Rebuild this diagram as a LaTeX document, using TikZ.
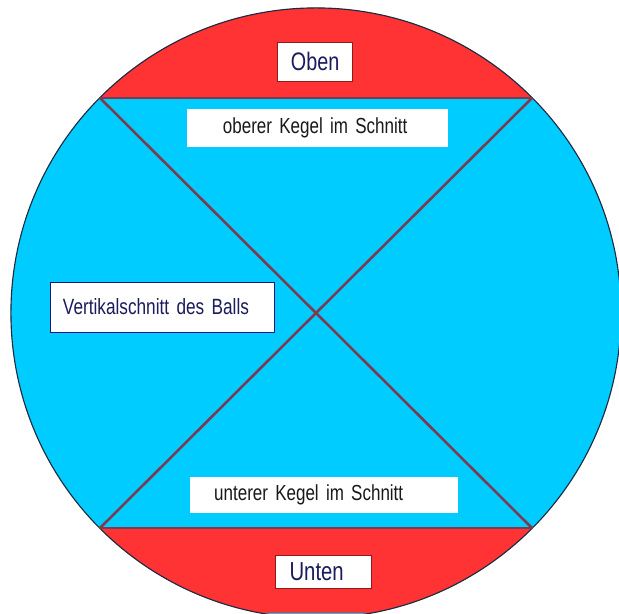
\documentclass[tikz,border=0pt]{standalone}
\usepackage{fontspec}
\setmainfont{Liberation Sans}[FakeStretch=0.78,WordSpace=0.75]
\usepackage{tikz}
\usetikzlibrary{calc}
\definecolor{BallCyan}{HTML}{00CCFF}
\definecolor{CapRed}{HTML}{FF3333}
\definecolor{CutLine}{HTML}{7B3B50}
\definecolor{Navy}{HTML}{1B1B5E}
\definecolor{Rim}{HTML}{1A2A40}

\begin{document}
\begin{tikzpicture}[x=0.025cm,y=-0.025cm,
    tag/.style={fill=white,inner ysep=0pt,align=left},
    capline/.style={CutLine,line width=1.8pt,line cap=round}]
    \clip (0,0) rectangle (619,613);
    \coordinate (c) at (316,313);
    \coordinate (tl) at (100,98);
    \coordinate (tr) at (532,98);
    \coordinate (bl) at (100,528);
    \coordinate (br) at (532,528);
    % ball and caps
    \fill[BallCyan] (c) circle[radius=7.625cm];
    \begin{scope}
      \clip (c) circle[radius=7.625cm];
      \fill[CapRed] (0,0) rectangle (619,98);
      \fill[CapRed] (0,528) rectangle (619,613);
    \end{scope}
    \draw[Rim,line width=0.8pt] (c) circle[radius=7.625cm];
    % cuts
    \draw[capline] (tl) -- (tr);
    \draw[capline] (bl) -- (br);
    \draw[capline] (tl) -- (br);
    \draw[capline] (tr) -- (bl);
    % labels
    \node[tag,draw=CapRed!55!black,text=Navy,font=\fontsize{18}{20}\selectfont,
      minimum width=1.875cm,minimum height=0.975cm,text width=1.875cm-0.7cm,inner xsep=0.35cm] (oben) at (314.5,61.5) {Oben};
    \node[tag,text=black!90,font=\fontsize{15.5}{17}\selectfont,
      minimum width=6.525cm,minimum height=0.95cm,text width=6.525cm-1.8cm,inner xsep=0.9cm] (oberer) at (317.5,128) {oberer Kegel im Schnitt};
    \node[tag,draw=Navy!80!blue,text=Navy,font=\fontsize{15.7}{18}\selectfont,
      minimum width=5.6cm,minimum height=1.25cm,text width=5.6cm-0.65cm,inner xsep=0.325cm] (vert) at (162,307) {Vertikalschnitt des Balls};
    \node[tag,text=black!90,font=\fontsize{15.5}{17}\selectfont,
      minimum width=6.71cm,minimum height=0.9cm,text width=6.71cm-1.22cm,inner xsep=0.61cm] (unterer) at (324,495) {unterer Kegel im Schnitt};
    \node[tag,draw=CapRed!55!black,text=Navy,font=\fontsize{18.5}{20}\selectfont,
      minimum width=2.39cm,minimum height=0.825cm,text width=2.39cm-0.72cm,inner xsep=0.36cm] (unten) at (323,571.5) {Unten};
  \end{tikzpicture}
\end{document}
